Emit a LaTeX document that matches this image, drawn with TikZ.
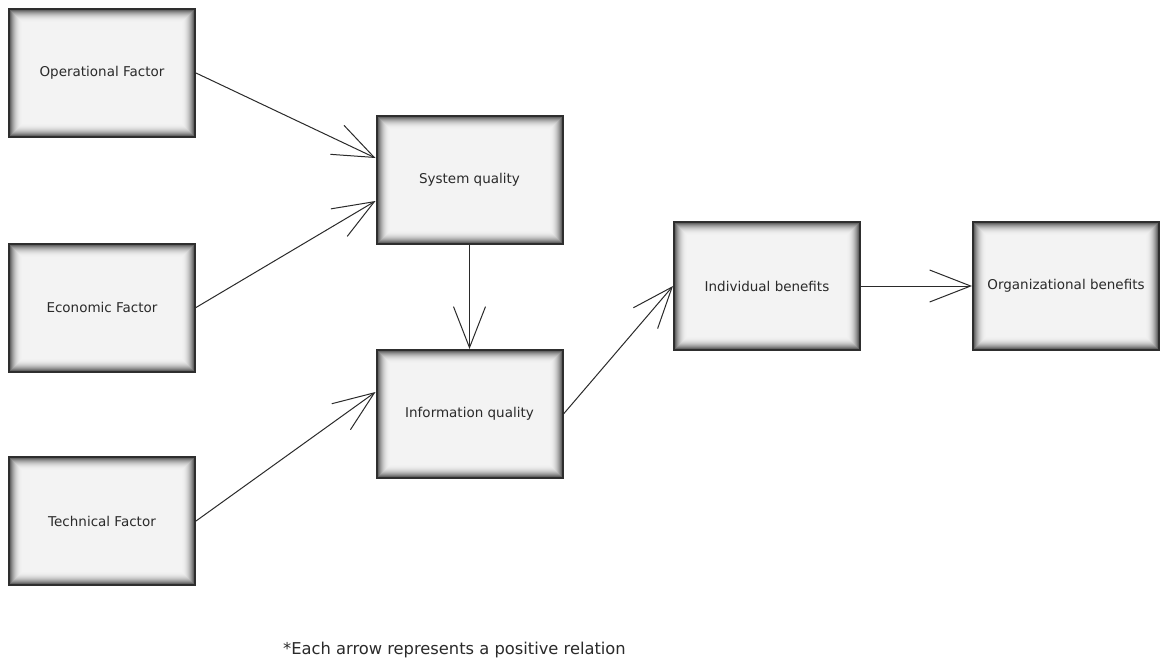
\documentclass[tikz,border=0pt]{standalone}
\usepackage{fontspec}
\setmainfont{DejaVu Sans}
\usetikzlibrary{arrows.meta}
\definecolor{boxfill}{HTML}{F3F3F3}
\definecolor{boxedge}{HTML}{2E2E2E}
\definecolor{inkgray}{HTML}{2A2A2A}
\begin{document}
\begin{tikzpicture}[x=1pt,y=-1pt,
  glowbox/.style={minimum width=186pt, minimum height=128pt, inner sep=0pt,
    fill=boxfill, draw=boxedge, line width=2pt, font=\fontsize{13.5}{16}\selectfont,
    text=inkgray,
    % inner shadow: nested frames fading from dark at the rim to the fill
    path picture={
      \foreach \i [evaluate=\i as \c using {70*(1-\i/14)^2.4}] in {0,...,13} {
        \draw[line width=1.2pt, draw=black!\c!boxfill]
          ([shift={(\i pt+0.6pt,\i pt+0.6pt)}]path picture bounding box.south west)
          rectangle
          ([shift={(-\i pt-0.6pt,-\i pt-0.6pt)}]path picture bounding box.north east);
      }
    }},
  link/.style={draw=inkgray, line width=1pt,
    -{Straight Barb[length=41pt, width=32pt, line width=1pt]}}]
\useasboundingbox (0,0) rectangle (1165,667);
\fill[white] (0,0) rectangle (1165,667);

\node[glowbox] (op)  at (102,73)   {Operational Factor};
\node[glowbox] (eco) at (102,307.5) {Economic Factor};
\node[glowbox] (tec) at (102,521)  {Technical Factor};
\node[glowbox] (sys) at (469.5,180) {System quality};
\node[glowbox] (inf) at (469.5,414) {Information quality};
\node[glowbox] (ind) at (767,286)  {Individual benefits};
\node[glowbox] (org) at (1066,286) {Organizational benefits};

% yshift is measured on the page, so positive values move up
\draw[link] (op.east) -- ([yshift=22pt]sys.west);
\draw[link] (eco.east) -- ([yshift=-21pt]sys.west);
\draw[link] (sys.south) -- (inf.north);
\draw[link] (tec.east) -- ([yshift=22pt]inf.west);
\draw[link] (inf.east) -- (ind.west);
\draw[link] (ind.east) -- (org.west);

\node[anchor=west, text=inkgray, font=\fontsize{16.3}{19}\selectfont, inner sep=0pt]
  (note) at (283,650) {*Each arrow represents a positive relation};
\end{tikzpicture}
\end{document}
